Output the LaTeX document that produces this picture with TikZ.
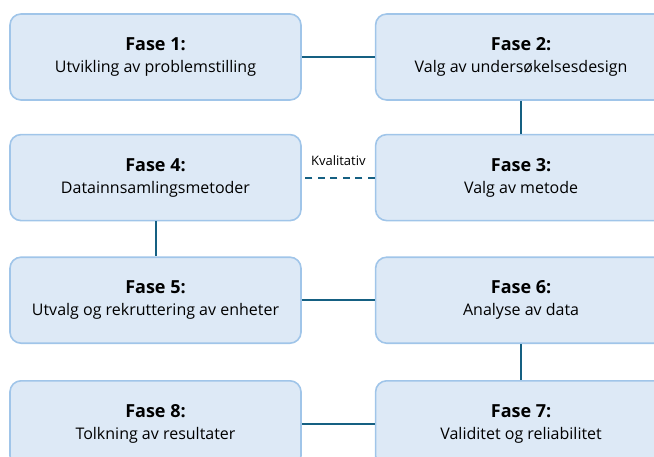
\documentclass[tikz,border=0pt]{standalone}
\usepackage{fontspec}
\setmainfont{Open Sans}
\usetikzlibrary{positioning}
\definecolor{fasefill}{RGB}{221,233,246}
\definecolor{faseedge}{RGB}{160,197,233}
\definecolor{linkblue}{RGB}{21,96,130}

\begin{document}
\begin{tikzpicture}[
    fase/.style={rectangle, draw=faseedge, fill=fasefill, line width=1.6pt, rounded corners=11pt, minimum width=291pt, minimum height=86pt, align=center, font=\fontsize{16}{22}\selectfont},
    link/.style={line width=2pt, color=linkblue},
    hint/.style={font=\fontsize{13}{14}\selectfont, text=black}
]
\clip (0pt,0pt) rectangle (654pt,-456pt);
\useasboundingbox (0pt,0pt) rectangle (654pt,-456pt);
\node[fase] (f1) at (155.5pt,-57pt) {\textbf{\fontsize{18}{22}\selectfont Fase 1:}\\Utvikling av problemstilling};
\node[fase, right=73pt of f1] (f2) {\textbf{\fontsize{18}{22}\selectfont Fase 2:}\\Valg av undersøkelsesdesign};
\node[fase, below=33pt of f2] (f3) {\textbf{\fontsize{18}{22}\selectfont Fase 3:}\\Valg av metode};
\node[fase, below=33pt of f1] (f4) {\textbf{\fontsize{18}{22}\selectfont Fase 4:}\\Datainnsamlingsmetoder};
\node[fase, below=35pt of f4] (f5) {\textbf{\fontsize{18}{22}\selectfont Fase 5:}\\Utvalg og rekruttering av enheter};
\node[fase, below=35pt of f3] (f6) {\textbf{\fontsize{18}{22}\selectfont Fase 6:}\\Analyse av data};
\node[fase, below=36pt of f6] (f7) {\textbf{\fontsize{18}{22}\selectfont Fase 7:}\\Validitet og reliabilitet};
\node[fase, below=36pt of f5] (f8) {\textbf{\fontsize{18}{22}\selectfont Fase 8:}\\Tolkning av resultater};
% connectors
\draw[link] (f1) -- (f2);
\draw[link] (f2) -- (f3);
\draw[link, dash pattern=on 7pt off 5.5pt] (f3) -- node[above=8pt, hint]{Kvalitativ} (f4);
\draw[link] (f4) -- (f5);
\draw[link] (f5) -- (f6);
\draw[link] (f6) -- (f7);
\draw[link] (f7) -- (f8);
\end{tikzpicture}
\end{document}
